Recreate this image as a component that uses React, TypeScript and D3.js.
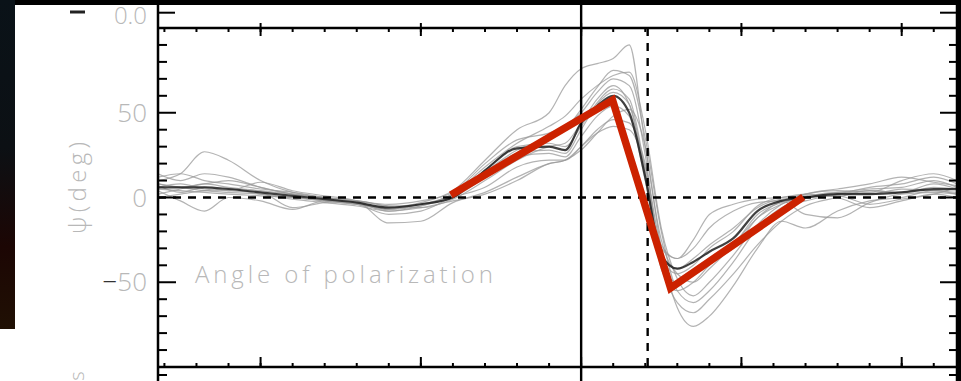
import React from "react";
import * as d3 from "d3";

// Sample times (hours) shared by every trace
const times = [
  -2.64, -2.5, -2.35, -2.2, -2.0, -1.8, -1.6, -1.4, -1.2, -1.0, -0.8, -0.6, -0.4, -0.2, -0.1, 0,
  0.1, 0.2, 0.3, 0.4, 0.5, 0.6, 0.7, 0.8, 0.95, 1.1, 1.25, 1.4, 1.6, 1.8, 2.0, 2.2, 2.345,
];

// Individual event traces of the polarization angle (deg)
const trace1 = [8, 6, 4, 3, 2, 0, -2, -4, -6, -3, 4, 22, 40, 50, 66, 76, 79, 82, 90, 30, -25, -45, -50, -42, -28, -12, -4, 0, 3, 5, 6, 10, 6];
const trace2 = [12, 14, 10, 8, 5, 3, 0, -3, -8, -5, 2, 15, 28, 35, 40, 52, 65, 75, 72, 35, -20, -55, -62, -55, -38, -18, -6, -2, 2, 6, 8, 12, 8];
const trace3 = [10, 14, 27, 22, 10, 3, 0, -2, -5, -6, -1, 10, 22, 30, 32, 44, 58, 66, 55, 12, -38, -62, -68, -60, -45, -28, -14, -5, 0, 4, 3, 8, 5];
const trace4 = [4, -2, -8, 0, -2, -7, -2, -4, -10, -8, 0, 6, 18, 22, 22, 30, 40, 46, 44, 20, -28, -36, -30, -18, -8, -3, -2, -10, -12, -3, 2, 3, 2];
const trace5 = [6, 8, 5, 4, 9, 4, 1, -2, -15, -14, -3, 3, 12, 20, 22, 28, 38, 48, 52, 30, -30, -65, -76, -70, -52, -30, -14, -18, -8, -2, 0, 4, 2];
const trace6 = [14, 10, 14, 12, 6, 2, 0, -2, -4, -2, 3, 20, 34, 38, 42, 50, 62, 70, 66, 25, -40, -50, -45, -38, -30, -12, -2, 2, 4, 3, 10, 14, 10];
const trace7 = [0, 2, 4, 5, 2, -1, -3, -5, -8, -6, -2, 2, 10, 20, 22, 30, 38, 42, 40, 18, -30, -36, -25, -10, -4, -1, 0, 2, 0, -6, -2, 2, 0];
const trace8 = [8, 6, 8, 10, 6, 2, 0, -3, -7, -5, 1, 14, 26, 28, 26, 40, 55, 62, 55, 14, -42, -55, -50, -40, -28, -10, -3, 0, 2, 4, 3, 6, 5];
const trace9 = [5, 4, 3, 2, 1, 0, -2, -4, -7, -4, 1, 16, 30, 32, 30, 42, 56, 64, 58, 16, -36, -45, -40, -30, -20, -5, 0, 1, 3, 2, 5, 4, 3];
const trace10 = [2, 5, 8, 6, 4, 2, -1, -3, -6, -4, 2, 18, 32, 42, 48, 58, 66, 72, 74, 40, -18, -48, -58, -50, -34, -16, -4, 2, 5, 8, 12, 9, 7];
const trace11 = [7, 3, 6, 4, 3, -6, -3, -2, -5, -4, 0, 12, 24, 26, 24, 36, 48, 54, 48, 10, -35, -42, -36, -28, -18, -6, -1, 0, 1, -4, -1, 2, 6];
const traces = [trace1, trace2, trace3, trace4, trace5, trace6, trace7, trace8, trace9, trace10, trace11];

// Superposed-epoch mean trace (deg)
const meanTrace = [6, 6, 6, 5, 3, 1, -1, -3, -6, -4, 0, 16, 29, 30, 28, 44, 54, 60, 50, 12, -34, -42, -38, -32, -24, -8, -2, 0, 2, 2, 3, 5, 5];

// Schematic rotation model
const modelTimes = [-0.813, 0.196, 0.558, 1.386];
const modelAngles = [1.5, 57.5, -53.4, 0.3];

// Axis settings
const yTickLabels = [50, 0, -50];
const xMajorTicks = [-2, -1, 0, 1, 2];
const crossTime = 0.415;

const W = 961;
const H = 381;

export default function App() {
  const x = d3.scaleLinear().domain([-2.64, 2.345]).range([158, 957]);
  const y = d3.scaleLinear().domain([-100, 100]).range([367, 28]);
  const left = x.range()[0];
  const right = x.range()[1];
  const top = y(100);
  const bottom = y(-100);

  const line = d3
    .line<number>()
    .x((_, i) => x(times[i]))
    .y((d) => y(d))
    .curve(d3.curveMonotoneX);

  const modelLine = d3
    .line<number>()
    .x((_, i) => x(modelTimes[i]))
    .y((d) => y(d));

  const xMinor = d3.range(-2.6, 2.35, 0.2).map((v) => Math.round(v * 10) / 10);
  const yMinor = d3.range(-90, 100, 10);

  const labelFont = "'Open Sans', 'DejaVu Sans', sans-serif";
  const grayText = "#b8b8b8";

  return (
    <svg
      width={W}
      height={H}
      style={{ position: "absolute", left: 0, top: 0, display: "block" }}
    >
      <defs>
        <linearGradient id="edge" x1="0" y1="0" x2="0" y2="1">
          <stop offset="0" stopColor="#0a1218" />
          <stop offset="0.45" stopColor="#0c1014" />
          <stop offset="0.75" stopColor="#1c0604" />
          <stop offset="1" stopColor="#201004" />
        </linearGradient>
        <clipPath id="plot">
          <rect x={left} y={top} width={right - left} height={bottom - top} />
        </clipPath>
      </defs>

      {/* page backdrop */}
      <rect x={0} y={0} width={W} height={H} fill="#000" />
      <rect x={15} y={5} width={943} height={H - 5} fill="#fff" />
      <rect x={0} y={329} width={15} height={H - 329} fill="#fff" />
      <rect x={0} y={0} width={15} height={329} fill="url(#edge)" />

      {/* traces */}
      <g clipPath="url(#plot)" fill="none">
        {traces.map((t, i) => (
          <path key={i} d={line(t) || ""} stroke="#9a9a9a" strokeWidth={1.2} strokeOpacity={0.75} />
        ))}
        <path d={line(meanTrace) || ""} stroke="#1e1e1e" strokeWidth={2.2} strokeOpacity={0.85} />
      </g>

      {/* reference lines */}
      <line x1={left} x2={right} y1={y(0)} y2={y(0)} stroke="#000" strokeWidth={2.4} strokeDasharray="8,7" />
      <line x1={x(crossTime)} x2={x(crossTime)} y1={top} y2={bottom} stroke="#000" strokeWidth={2.4} strokeDasharray="8,7" />
      <line x1={x(0)} x2={x(0)} y1={5} y2={H} stroke="#000" strokeWidth={2.4} />

      {/* frame */}
      <g stroke="#000" strokeWidth={2.5}>
        <line x1={left} x2={left} y1={5} y2={H} />
        <line x1={right} x2={right} y1={5} y2={H} />
        <line x1={left} x2={right} y1={top} y2={top} />
        <line x1={left} x2={right} y1={bottom} y2={bottom} />
      </g>

      {/* ticks */}
      <g stroke="#000" strokeWidth={2}>
        {xMinor.map((v) => (
          <g key={"xm" + v}>
            <line x1={x(v)} x2={x(v)} y1={top - 1} y2={top + 4} />
            <line x1={x(v)} x2={x(v)} y1={bottom} y2={bottom - 4} />
          </g>
        ))}
        {xMajorTicks.map((v) => (
          <g key={"xM" + v}>
            <line x1={x(v)} x2={x(v)} y1={top - 5} y2={top + 8} />
            <line x1={x(v)} x2={x(v)} y1={bottom} y2={bottom - 10} />
          </g>
        ))}
        {yMinor.map((v) => {
          const major = v % 50 === 0;
          const len = major ? 18 : 9;
          return (
            <g key={"y" + v}>
              <line x1={left} x2={left + len} y1={y(v)} y2={y(v)} />
              <line x1={right} x2={right - (major ? 17 : 8)} y1={y(v)} y2={y(v)} />
            </g>
          );
        })}
        {/* neighbouring panels */}
        <line x1={left} x2={left + 17} y1={12.7} y2={12.7} />
        <line x1={right} x2={right - 17} y1={12.7} y2={12.7} />
        <line x1={left} x2={left + 9} y1={375} y2={375} />
        <line x1={right} x2={right - 8} y1={375} y2={375} />
        <line x1={70} x2={85} y1={12} y2={12} strokeWidth={3} stroke="#222" />
      </g>

      {/* model */}
      <path
        d={modelLine(modelAngles) || ""}
        fill="none"
        stroke="#cc2200"
        strokeWidth={7.5}
        strokeLinejoin="miter"
      />

      {/* tick labels */}
      <g fontFamily={labelFont} fontWeight={300} fontSize={26} fill={grayText} textAnchor="end">
        {yTickLabels.map((v) => (
          <text key={v} x={147} y={y(v) + 9}>
            {v < 0 ? (
              <>
                <tspan fill="#333">−</tspan>
                {String(Math.abs(v))}
              </>
            ) : (
              String(v)
            )}
          </text>
        ))}
        <text x={147} y={24} fontSize={24}>0.0</text>
      </g>

      {/* axis titles */}
      <text
        transform={`translate(86, 188) rotate(-90)`}
        fontFamily={labelFont}
        fontWeight={300}
        fontSize={24}
        fill={grayText}
        textAnchor="middle"
        textLength={92}
        lengthAdjust="spacing"
      >
        ψ(deg)
      </text>
      <text
        transform={`translate(84, 376) rotate(-90)`}
        fontFamily={labelFont}
        fontWeight={300}
        fontSize={20}
        fill={grayText}
        textAnchor="middle"
      >
        s
      </text>

      <text
        x={195}
        y={283}
        fontFamily={labelFont}
        fontWeight={300}
        fontSize={24}
        fill={grayText}
        textLength={298}
        lengthAdjust="spacing"
      >
        Angle of polarization
      </text>
    </svg>
  );
}
